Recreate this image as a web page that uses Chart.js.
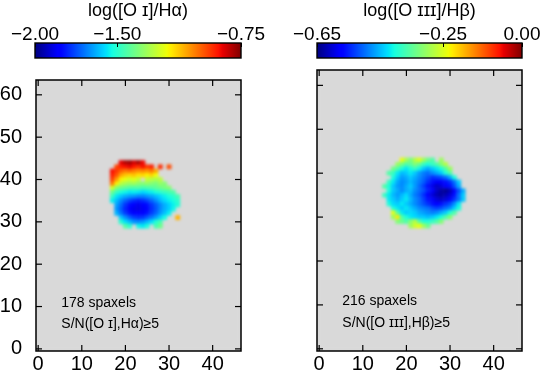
<!DOCTYPE html>
<html>
<head>
<meta charset="utf-8">
<script src="https://cdn.jsdelivr.net/npm/chart.js@4.4.1/dist/chart.umd.min.js"></script>
<style>
html, body { margin: 0; padding: 0; background: #fff; }
body { width: 543px; height: 379px; position: relative; overflow: hidden; }
canvas { position: absolute; }
</style>
</head>
<body>
<canvas id="cbOI"   width="281" height="62"  style="left:0;top:0"></canvas>
<canvas id="cbOIII" width="262" height="62"  style="left:281px;top:0"></canvas>
<canvas id="mapOI"   width="270" height="317" style="left:0;top:62px"></canvas>
<canvas id="mapOIII" width="262" height="317" style="left:281px;top:62px"></canvas>
<script>
// Ejes de los mapas (spaxels)
const xTicks = [0, 10, 20, 30, 40];
const yTicks = [0, 10, 20, 30, 40, 50, 60];
const xRange = [-0.5, 46.5];
const yRange = [-0.5, 63.5];

// Mapa log([O I]/Ha): filas (y), primer x de cada fila y valores por spaxel
const oiLimits   = [-2.00, -0.75];
const oiBarTicks = [-2.00, -1.50, -0.75];
const oiRowY  = [44, 43, 42, 41, 40, 39, 38, 37, 36, 35, 34, 33, 32, 31, 30, 29];
const oiRowX0 = [19, 18, 17, 17, 17, 17, 17, 17, 17, 17, 18, 18, 18, 19, 19, 20];
const oiRowVals = [
    [-0.86, -0.80, -0.78, -0.84, -0.79, -0.87],
    [-0.95, -0.90, -0.88, -0.86, -0.89, -0.92, -0.88, -0.93, -0.90, null, -0.92, null, -0.96],
    [-0.88, -0.93, -0.99, -1.02, -1.00, -1.03, -1.05, -1.04, -1.06, -1.02, -1.08],
    [-0.90, -0.97, -1.08, -1.12, -1.14, -1.12, -1.16, -1.15, -1.18, -1.14, -1.20],
    [-0.94, -1.06, -1.18, -1.21, -1.24, -1.22, -1.26, null, -1.26, -1.28, -1.30, -1.28],
    [-1.02, -1.18, -1.28, -1.31, -1.33, -1.32, -1.35, -1.36, -1.34, -1.36, -1.38, -1.34, -1.36],
    [-1.24, -1.36, -1.40, -1.42, -1.44, -1.45, -1.44, -1.46, -1.45, -1.44, -1.42, -1.40, -1.38, -1.36],
    [-1.40, -1.48, -1.52, -1.54, -1.56, -1.55, -1.56, -1.58, -1.56, -1.55, -1.52, -1.50, -1.48, -1.46, -1.44],
    [-1.48, -1.56, -1.60, -1.63, -1.65, -1.66, -1.68, -1.68, -1.66, -1.64, -1.61, -1.58, -1.55, -1.52, -1.50, -1.46],
    [-1.55, -1.61, -1.67, -1.72, -1.76, -1.79, -1.81, -1.79, -1.76, -1.72, -1.67, -1.62, -1.58, -1.55, -1.53, -1.50],
    [-1.64, -1.71, -1.78, -1.83, -1.86, -1.88, -1.86, -1.83, -1.78, -1.73, -1.68, -1.63, -1.59, -1.55, -1.51],
    [-1.66, -1.73, -1.80, -1.85, -1.88, -1.89, -1.87, -1.84, -1.79, -1.74, -1.68, -1.63, -1.59, -1.54],
    [-1.62, -1.70, -1.77, -1.82, -1.85, -1.86, -1.85, -1.82, -1.77, -1.72, -1.66, -1.61, -1.55],
    [-1.60, -1.67, -1.73, -1.77, -1.79, -1.78, -1.74, -1.70, -1.65, -1.59, -1.53, null, null, -1.10],
    [-1.50, -1.57, -1.62, -1.66, -1.68, -1.66, -1.62, -1.57, -1.51, -1.46],
    [-1.44, -1.50, null, -1.54, -1.56, -1.52, null, -1.46, -1.40]
];
const oiCentre  = [25, 32];
const oiSpaxels = 178;

// Mapa log([O III]/Hb)
const oiiiLimits   = [-0.65, 0.00];
const oiiiBarTicks = [-0.65, -0.25, 0.00];
const oiiiRowY  = [43, 42, 41, 40, 39, 38, 37, 36, 35, 34, 33, 32, 31, 30, 29, 28];
const oiiiRowX0 = [19, 18, 17, 16, 17, 16, 15, 16, 15, 16, 16, 17, 17, 17, 18, 21];
const oiiiRowVals = [
    [-0.24, -0.29, -0.33, -0.28, -0.25, -0.30, -0.34, -0.36, null, -0.30],
    [-0.30, -0.33, -0.36, -0.35, -0.32, -0.34, -0.38, -0.40, -0.38, -0.36, -0.32, -0.28],
    [-0.33, -0.36, -0.40, -0.42, -0.40, -0.38, -0.41, -0.44, -0.46, -0.44, -0.42, -0.40, -0.36, -0.30],
    [-0.36, -0.38, -0.42, -0.45, -0.44, -0.42, -0.44, -0.47, -0.49, -0.50, -0.48, -0.46, -0.44, -0.40, -0.36],
    [-0.40, -0.44, -0.47, -0.46, -0.44, -0.46, -0.48, -0.50, -0.52, -0.54, -0.53, -0.52, -0.50, -0.46, -0.40],
    [-0.38, -0.42, -0.46, -0.48, -0.47, -0.45, -0.47, -0.49, -0.51, -0.54, -0.56, -0.58, -0.58, -0.56, -0.54, -0.50, -0.44],
    [-0.36, -0.40, -0.44, -0.47, -0.48, -0.46, -0.44, -0.47, -0.50, -0.53, -0.56, -0.59, -0.61, -0.60, -0.58, -0.56, -0.52, -0.46],
    [-0.40, -0.44, -0.46, -0.48, -0.46, -0.45, -0.48, -0.50, -0.52, -0.55, -0.58, -0.61, -0.63, -0.64, -0.62, -0.58, -0.52, -0.46],
    [-0.38, -0.42, -0.45, -0.47, -0.45, -0.43, -0.46, -0.49, -0.51, -0.54, -0.57, -0.60, -0.62, -0.63, -0.62, -0.60, -0.56, -0.50, -0.44],
    [-0.42, -0.44, -0.46, -0.44, -0.42, -0.45, -0.48, -0.50, -0.53, -0.56, -0.58, -0.60, -0.61, -0.60, -0.58, -0.54, -0.50, -0.44],
    [-0.40, -0.43, -0.44, -0.42, -0.44, -0.46, -0.48, -0.50, -0.52, -0.54, -0.56, -0.57, -0.56, -0.54, -0.52, -0.48, -0.42],
    [-0.40, -0.42, -0.44, -0.42, -0.44, -0.46, -0.48, -0.49, -0.50, -0.52, -0.53, -0.52, -0.50, -0.48, -0.44, -0.40],
    [-0.24, -0.36, -0.42, -0.44, -0.43, -0.44, -0.46, -0.47, -0.48, -0.49, -0.48, -0.46, -0.44, -0.40, -0.36],
    [-0.30, -0.22, -0.36, -0.40, -0.42, -0.43, -0.44, -0.44, -0.45, -0.44, -0.42, -0.40, -0.36, -0.32],
    [-0.32, -0.34, -0.36, -0.32, -0.28, -0.36, -0.40, -0.40, -0.38, -0.36, -0.32],
    [-0.30, -0.26, -0.24, -0.30, -0.34]
];
const oiiiCentre  = [29, 36];
const oiiiSpaxels = 216;

Chart.defaults.font.family = "'Liberation Sans', Arial, Helvetica, sans-serif";
Chart.defaults.color = '#000';

// Paleta "jet"
function tramo(t, pts){
    for (let i = 1; i < pts.length; i++){
        if (t <= pts[i][0]){
            const [t0, v0] = pts[i-1], [t1, v1] = pts[i];
            return v0 + (v1 - v0) * (t - t0) / (t1 - t0);
        }
    }
    return pts[pts.length-1][1];
}
function jet(t){
    t = Math.min(1, Math.max(0, t));
    const r = tramo(t, [[0,0],[0.35,0],[0.66,1],[0.89,1],[1,0.5]]);
    const g = tramo(t, [[0,0],[0.125,0],[0.375,1],[0.64,1],[0.91,0],[1,0]]);
    const b = tramo(t, [[0,0.5],[0.11,1],[0.34,1],[0.65,0],[1,0]]);
    return 'rgb(' + Math.round(r*255) + ',' + Math.round(g*255) + ',' + Math.round(b*255) + ')';
}

function etiquetaBarra(v){
    return (v < 0 ? '\u2212' : '') + Math.abs(v).toFixed(2);
}

// Barra de color encima de cada mapa
const pluginBarra = {
    id: 'barra',
    afterDraw(chart, args, opts){
        const ctx = chart.ctx, a = chart.chartArea, sx = chart.scales.x;
        ctx.save();
        ctx.strokeStyle = '#000';
        ctx.lineWidth = 1;
        opts.ticks.forEach(v => {
            const px = Math.round(sx.getPixelForValue(v)) + 0.5;
            ctx.beginPath(); ctx.moveTo(px, a.top); ctx.lineTo(px, a.top + 4); ctx.stroke();
        });
        ctx.lineWidth = 1.4;
        ctx.strokeRect(a.left, a.top, a.right - a.left, a.bottom - a.top);
        ctx.restore();
    }
};

function crearBarra(id, limits, ticks, titulo, padL, padR){
    new Chart(document.getElementById(id), {
        type: 'bar',
        data: {
            labels: [''],
            datasets: [{
                data: [limits],
                backgroundColor: c => {
                    const a = c.chart.chartArea;
                    if (!a) return '#888';
                    const grad = c.chart.ctx.createLinearGradient(a.left, 0, a.right, 0);
                    for (let i = 0; i <= 100; i++) grad.addColorStop(i / 100, jet(i / 100));
                    return grad;
                },
                borderWidth: 0,
                barPercentage: 1,
                categoryPercentage: 1
            }]
        },
        options: {
            indexAxis: 'y',
            responsive: false,
            animation: false,
            events: [],
            layout: { padding: { left: padL, right: padR, top: 0, bottom: 4 } },
            plugins: { legend: { display: false }, tooltip: { enabled: false }, barra: { ticks: ticks } },
            scales: {
                x: {
                    type: 'linear', position: 'top', min: limits[0], max: limits[1],
                    afterBuildTicks: s => { s.ticks = ticks.map(v => ({ value: v })); },
                    afterFit: s => { s.height = 43; },
                    grid: { display: false }, border: { display: false },
                    ticks: { padding: -11, font: { size: 19 }, color: '#000', maxRotation: 0, autoSkip: false, callback: etiquetaBarra },
                    title: { display: true, text: titulo, font: { size: 18 }, color: '#000', padding: 0 }
                },
                y: { display: false }
            }
        },
        plugins: [pluginBarra]
    });
}

// Fondo gris, suavizado del mapa, marco con ticks hacia dentro y textos
const pluginMapa = {
    id: 'mapa',
    beforeDatasetsDraw(chart){
        const ctx = chart.ctx, a = chart.chartArea;
        ctx.save();
        ctx.fillStyle = '#d9d9d9';
        ctx.fillRect(a.left, a.top, a.right - a.left, a.bottom - a.top);
        ctx.restore();
    },
    afterDatasetsDraw(chart){
        const ctx = chart.ctx, a = chart.chartArea;
        const x = Math.round(a.left) + 2, y = Math.round(a.top) + 2;
        const w = Math.round(a.right - a.left) - 4, h = Math.round(a.bottom - a.top) - 4;
        const tmp = document.createElement('canvas');
        tmp.width = w; tmp.height = h;
        tmp.getContext('2d').drawImage(chart.canvas, x, y, w, h, 0, 0, w, h);
        ctx.save();
        ctx.filter = 'blur(1.7px)';
        ctx.drawImage(tmp, x, y);
        ctx.restore();
    },
    afterDraw(chart, args, opts){
        const ctx = chart.ctx, a = chart.chartArea, sx = chart.scales.x, sy = chart.scales.y;
        ctx.save();
        ctx.strokeStyle = '#000';
        ctx.lineWidth = 1.2;
        xTicks.forEach(v => {
            const px = sx.getPixelForValue(v);
            ctx.beginPath(); ctx.moveTo(px, a.bottom); ctx.lineTo(px, a.bottom - 6); ctx.stroke();
            ctx.beginPath(); ctx.moveTo(px, a.top);    ctx.lineTo(px, a.top + 6);    ctx.stroke();
        });
        yTicks.forEach(v => {
            const py = sy.getPixelForValue(v);
            ctx.beginPath(); ctx.moveTo(a.left, py);  ctx.lineTo(a.left + 6, py);  ctx.stroke();
            ctx.beginPath(); ctx.moveTo(a.right, py); ctx.lineTo(a.right - 6, py); ctx.stroke();
        });
        ctx.lineWidth = 1.5;
        ctx.strokeRect(a.left, a.top, a.right - a.left, a.bottom - a.top);

        ctx.fillStyle = '#000';
        ctx.font = "14px 'Liberation Sans', Arial, sans-serif";
        ctx.textBaseline = 'middle';
        ctx.textAlign = 'left';
        opts.lineas.forEach((t, i) => {
            ctx.fillText(t, sx.getPixelForValue(5.3), sy.getPixelForValue(opts.lineaY[i]));
        });
        ctx.restore();
    }
};

function puntos(rowY, rowX0, rowVals){
    const pts = [];
    rowY.forEach((y, i) => {
        rowVals[i].forEach((v, k) => {
            if (v !== null) pts.push({ x: rowX0[i] + k, y: y, v: v });
        });
    });
    return pts;
}

function radioCelda(c){
    const s = c.chart.scales.x;
    if (!s) return 3;
    return Math.abs(s.getPixelForValue(1) - s.getPixelForValue(0)) / Math.SQRT2 + 0.3;
}

function crearMapa(id, rowY, rowX0, rowVals, centre, limits, lineas, showY, padR){
    new Chart(document.getElementById(id), {
        type: 'scatter',
        data: {
            datasets: [{
                data: puntos(rowY, rowX0, rowVals),
                pointStyle: 'rect',
                pointRadius: radioCelda,
                pointBorderWidth: 0,
                pointBackgroundColor: c => c.raw ? jet((c.raw.v - limits[0]) / (limits[1] - limits[0])) : '#888'
            }, {
                data: [{ x: centre[0], y: centre[1] }],
                pointStyle: 'circle',
                pointRadius: 2,
                pointBorderWidth: 0,
                pointBackgroundColor: '#f2f2f2'
            }]
        },
        options: {
            responsive: false,
            animation: false,
            events: [],
            layout: { padding: { left: 0, right: padR, top: 8, bottom: 0 } },
            plugins: {
                legend: { display: false },
                tooltip: { enabled: false },
                mapa: { lineas: lineas, lineaY: [10.9, 5.8] }
            },
            scales: {
                x: {
                    type: 'linear', min: xRange[0], max: xRange[1],
                    afterBuildTicks: s => { s.ticks = xTicks.map(v => ({ value: v })); },
                    afterFit: s => { s.height = 28; },
                    grid: { display: false }, border: { display: false },
                    ticks: { padding: -7, font: { size: 20 }, color: '#000', maxRotation: 0, autoSkip: false }
                },
                y: {
                    type: 'linear', min: yRange[0], max: yRange[1],
                    afterBuildTicks: s => { s.ticks = yTicks.map(v => ({ value: v })); },
                    afterFit: s => { s.width = 36; },
                    grid: { display: false }, border: { display: false },
                    ticks: { display: showY, padding: 6, font: { size: 20 }, color: '#000', autoSkip: false }
                }
            }
        },
        plugins: [pluginMapa]
    });
}

crearBarra('cbOI',   oiLimits,   oiBarTicks,   'log([O \u026A]/H\u03B1)', 35, 40);
crearBarra('cbOIII', oiiiLimits, oiiiBarTicks, 'log([O \u026A\u026A\u026A]/H\u03B2)', 36, 21);

crearMapa('mapOI', oiRowY, oiRowX0, oiRowVals, oiCentre, oiLimits,
    [oiSpaxels + ' spaxels', 'S/N([O \u026A],H\u03B1)\u22655'], true, 29);
crearMapa('mapOIII', oiiiRowY, oiiiRowX0, oiiiRowVals, oiiiCentre, oiiiLimits,
    [oiiiSpaxels + ' spaxels', 'S/N([O \u026A\u026A\u026A],H\u03B2)\u22655'], false, 21);
</script>
</body>
</html>
